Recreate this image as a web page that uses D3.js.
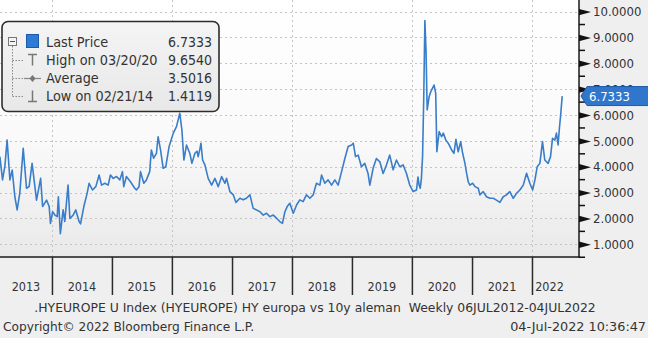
<!DOCTYPE html>
<html>
<head>
<meta charset="utf-8">
<script src="https://cdn.jsdelivr.net/npm/d3@7"></script>
<style>
  html, body { margin: 0; padding: 0; background: #efefef; }
  svg { display: block; font-family: "DejaVu Sans Condensed", "DejaVu Sans", sans-serif; }
</style>
</head>
<body>
<svg id="chart" width="648" height="338"></svg>
<script>
// Weekly HY Europe vs 10y Bund spread, sampled per year as [MM-DD, value]
const hy2013 = [["02-18",4.39],["03-06",3.49],["03-20",4.0],["04-03",5.03],["04-20",3.49],["05-04",3.87],["05-20",2.84],["06-03",2.33],["06-19",2.97],["07-10",4.71],["07-30",3.17],["08-15",3.23],["09-02",4.13],["09-29",2.71],["10-24",3.55],["11-05",2.46],["11-29",2.71],["12-15",2.46],["12-23",1.81]];
const hy2014 = [["01-05",2.26],["01-19",2.13],["02-02",2.07],["02-09",2.84],["02-21",1.4119],["03-10",2.33],["03-20",1.88],["04-09",3.29],["04-20",2.0],["05-10",2.13],["05-26",2.33],["06-15",1.88],["06-24",1.79],["07-14",2.46],["08-03",2.97],["08-15",3.36],["09-05",3.10],["09-25",3.23],["10-15",3.68],["10-30",3.29],["11-19",3.36],["12-09",3.29],["12-23",3.68]];
const hy2015 = [["01-09",3.55],["01-29",3.62],["02-18",3.49],["03-06",3.81],["03-14",3.23],["03-30",3.62],["04-24",3.42],["05-20",3.17],["05-30",3.10],["06-15",3.23],["06-24",3.81],["07-14",3.36],["07-30",3.49],["08-19",3.81],["08-29",4.65],["09-12",4.33],["09-29",4.52],["10-09",5.16],["10-24",4.65],["11-09",3.94],["11-25",4.0],["12-15",4.78]];
const hy2016 = [["01-09",5.29],["01-29",5.55],["02-18",6.07],["03-02",5.42],["03-14",4.26],["03-30",4.84],["04-20",4.5],["05-02",4.13],["05-20",4.52],["06-02",4.6],["06-09",4.39],["06-20",4.7],["06-26",4.91],["07-06",4.26],["07-20",4.07],["08-09",3.55],["08-30",3.29],["09-19",3.55],["10-09",3.23],["10-30",3.62],["11-19",3.36],["11-29",3.55],["12-19",3.04]];
const hy2017 = [["01-09",2.91],["01-25",2.62],["02-18",2.78],["03-10",2.72],["03-30",2.78],["04-20",2.91],["05-10",2.39],["05-30",2.33],["06-20",2.26],["07-10",2.13],["07-30",2.20],["08-19",2.07],["09-09",2.13],["09-29",2.01],["10-19",1.88],["11-04",1.81],["11-19",2.26],["12-03",2.46],["12-19",2.59]];
const hy2018 = [["01-09",2.20],["01-29",2.52],["02-18",2.72],["03-10",2.65],["03-30",2.91],["04-20",2.78],["05-10",2.91],["05-30",3.36],["06-20",3.29],["06-30",3.68],["07-20",3.36],["08-09",3.49],["08-30",3.29],["09-19",3.49],["10-09",3.29],["10-30",3.81],["11-19",4.32],["12-09",4.78],["12-30",4.84]];
const hy2019 = [["01-09",4.91],["01-23",4.39],["02-08",4.45],["02-28",4.0],["03-20",4.13],["04-09",3.74],["04-20",3.29],["05-10",3.94],["05-30",4.32],["06-20",4.19],["07-10",3.74],["07-30",4.07],["08-19",4.45],["09-09",3.88],["09-29",4.26],["10-19",4.0],["11-09",4.07],["11-29",3.74],["12-19",3.29]];
const hy2020 = [["01-09",3.04],["01-29",3.10],["02-07",3.6],["02-14",3.29],["02-21",3.17],["02-28",3.55],["03-06",4.4],["03-13",6.6],["03-20",9.654],["03-27",8.5],["04-03",6.2],["04-15",6.71],["04-25",6.90],["05-05",7.03],["05-15",7.16],["05-25",6.84],["06-01",4.58],["06-15",5.36],["06-30",5.16],["07-10",5.30],["07-26",5.03],["08-09",4.91],["08-30",4.65],["09-13",4.52],["09-25",5.06],["10-09",4.58],["10-24",4.97],["11-05",4.52],["11-19",4.13],["11-29",3.75],["12-09",3.42],["12-19",3.29]];
const hy2021 = [["01-05",3.36],["01-19",3.23],["02-08",3.17],["02-18",2.91],["03-10",3.04],["03-30",2.84],["04-20",2.78],["05-10",2.78],["05-30",2.71],["06-20",2.62],["07-10",2.84],["07-30",2.91],["08-19",3.04],["09-09",2.78],["09-29",2.97],["10-19",3.10],["11-09",3.29],["11-29",3.75],["12-19",3.36]];
const hy2022 = [["01-05",3.10],["01-19",3.49],["02-02",4.0],["02-18",4.13],["03-06",4.97],["03-20",4.26],["04-09",4.13],["04-24",4.39],["05-06",5.10],["05-20",5.03],["05-30",5.30],["06-09",4.84],["06-17",5.5],["06-24",5.95],["07-04",6.7333]];

const seriesByYear = { 2013: hy2013, 2014: hy2014, 2015: hy2015, 2016: hy2016, 2017: hy2017,
                       2018: hy2018, 2019: hy2019, 2020: hy2020, 2021: hy2021, 2022: hy2022 };

const yTickValues = [1, 2, 3, 4, 5, 6, 7, 8, 9, 10];
const yearLabels = ["2013","2014","2015","2016","2017","2018","2019","2020","2021","2022"];
const gridYears = [2014, 2016, 2018, 2020, 2022];

const legendRows = [
  { label: "Last Price",       value: "6.7333", icon: "square" },
  { label: "High on 03/20/20", value: "9.6540", icon: "high" },
  { label: "Average",          value: "3.5016", icon: "avg" },
  { label: "Low on 02/21/14",  value: "1.4119", icon: "low" }
];
const lastPrice = 6.7333;
const titleText = ".HYEUROPE U Index (HYEUROPE) HY europa vs 10y aleman  Weekly 06JUL2012-04JUL2022";
const copyrightText = "Copyright\u00A9 2022 Bloomberg Finance L.P.";
const stampText = "04-Jul-2022 10:36:47";

// ---- build the series ----
const parse = d3.utcParse("%Y-%m-%d");
const data = [];
Object.keys(seriesByYear).forEach(yr => {
  seriesByYear[yr].forEach(([md, v]) => data.push({ date: parse(`${yr}-${md}`), value: v }));
});
data.sort((a, b) => a.date - b.date);

// ---- layout ----
const W = 648, H = 338;
const plotLeft = -60, plotRight = 579, plotTop = -10, plotBottom = 257;
const lineColor = "#3a7dc8";
const footerFont = "\"DejaVu Sans\", sans-serif";

const x = d3.scaleUtc()
  .domain([parse("2012-07-06"), parse("2022-07-04")])
  .range([-37.4, 562.2]);
const y = d3.scaleLinear().domain([1, 10]).range([244.3, 11.6]);

const svg = d3.select("#chart");
const defs = svg.append("defs");

const grad = defs.append("linearGradient").attr("id", "plotBg")
  .attr("x1", 0).attr("y1", 0).attr("x2", 0).attr("y2", 1);
grad.append("stop").attr("offset", "0%").attr("stop-color", "#ffffff");
grad.append("stop").attr("offset", "55%").attr("stop-color", "#fafafa");
grad.append("stop").attr("offset", "100%").attr("stop-color", "#e9e9e9");

defs.append("clipPath").attr("id", "plotClip").append("rect")
  .attr("x", plotLeft).attr("y", plotTop)
  .attr("width", plotRight - plotLeft).attr("height", plotBottom - plotTop);

const legGrad = defs.append("linearGradient").attr("id", "legBg")
  .attr("x1", 0).attr("y1", 0).attr("x2", 0).attr("y2", 1);
legGrad.append("stop").attr("offset", "0%").attr("stop-color", "#f4f4f4");
legGrad.append("stop").attr("offset", "100%").attr("stop-color", "#e8e8e8");

// page background
svg.append("rect").attr("width", W).attr("height", H).attr("fill", "#efefef");

// plot background
svg.append("rect")
  .attr("x", plotLeft).attr("y", plotTop)
  .attr("width", plotRight - plotLeft).attr("height", plotBottom - plotTop)
  .attr("fill", "url(#plotBg)");

// ---- gridlines ----
const grid = svg.append("g").attr("clip-path", "url(#plotClip)")
  .attr("stroke", "#c4c4c4").attr("stroke-width", 1).attr("stroke-dasharray", "2,3");
grid.selectAll("line.h").data(yTickValues).join("line").attr("class", "h")
  .attr("x1", plotLeft).attr("x2", plotRight)
  .attr("y1", d => Math.round(y(d)) + 0.5).attr("y2", d => Math.round(y(d)) + 0.5);
grid.selectAll("line.v").data(gridYears).join("line").attr("class", "v")
  .attr("x1", d => Math.round(x(Date.UTC(d, 0, 1))) + 0.5)
  .attr("x2", d => Math.round(x(Date.UTC(d, 0, 1))) + 0.5)
  .attr("y1", plotTop).attr("y2", plotBottom);

// ---- price line ----
const line = d3.line().x(d => x(d.date)).y(d => y(d.value));
svg.append("g").attr("clip-path", "url(#plotClip)")
  .append("path").datum(data)
  .attr("d", line)
  .attr("fill", "none")
  .attr("stroke", lineColor)
  .attr("stroke-width", 1.6)
  .attr("stroke-linejoin", "round");

// ---- frame ----
svg.append("line").attr("x1", plotLeft).attr("x2", plotRight + 0.75)
  .attr("y1", plotBottom).attr("y2", plotBottom)
  .attr("stroke", "#1a1a1a").attr("stroke-width", 1.5);
svg.append("line").attr("x1", plotRight).attr("x2", plotRight)
  .attr("y1", plotTop).attr("y2", plotBottom + 0.75)
  .attr("stroke", "#1a1a1a").attr("stroke-width", 1.5);

// ---- x axis: year separators and centred year labels ----
const yearStarts = d3.utcYear.range(Date.UTC(2013, 0, 1), Date.UTC(2023, 0, 1));
const xAxis = d3.axisBottom(x)
  .tickValues(yearStarts.slice(1))
  .tickSize(38)
  .tickFormat("");
const gx = svg.append("g").attr("transform", `translate(0,${plotBottom})`).call(xAxis);
gx.select(".domain").remove();
gx.selectAll(".tick line").attr("stroke", "#2a2a2a").attr("stroke-width", 1.5);

const xVisible = [0, 567];
svg.append("g").selectAll("text").data(yearLabels).join("text")
  .attr("x", d => {
    const a = Math.max(x(Date.UTC(+d, 0, 1)), xVisible[0]);
    const b = Math.min(x(Date.UTC(+d + 1, 0, 1)), xVisible[1]);
    return (a + b) / 2;
  })
  .attr("y", 291)
  .attr("text-anchor", "middle")
  .attr("font-size", 12.5)
  .attr("fill", "#333")
  .text(d => d);

// ---- y axis on the right ----
const yAxis = d3.axisRight(y)
  .tickValues(yTickValues)
  .tickSize(0)
  .tickPadding(14)
  .tickFormat(d3.format(".4f"));
const gy = svg.append("g").attr("transform", `translate(${plotRight},0)`).call(yAxis);
gy.select(".domain").remove();
gy.selectAll(".tick text").attr("font-size", 13).attr("fill", "#333")
  .attr("font-family", "\"DejaVu Sans Condensed\", \"DejaVu Sans\", sans-serif");
gy.selectAll(".tick").append("path")
  .attr("d", "M0,-3.2L12,0L0,3.2Z").attr("fill", "#111");

// minor ticks
svg.append("g").selectAll("line").data(d3.range(0.5, 10.6, 1)).join("line")
  .attr("x1", plotRight).attr("x2", plotRight + 6)
  .attr("y1", d => y(d)).attr("y2", d => y(d))
  .attr("stroke", "#111").attr("stroke-width", 1.5);

// last price tag
const tagY = y(lastPrice);
const tag = svg.append("g").attr("transform", `translate(${plotRight + 2},${tagY})`);
tag.append("path")
  .attr("d", "M0,0L6,-9.5H70V9.5H6Z")
  .attr("fill", "#2f76cc").attr("stroke", "#1d5aa6").attr("stroke-width", 1);
tag.append("text").attr("x", 8).attr("y", 0).attr("dy", "0.36em")
  .attr("font-size", 13).attr("fill", "#ffffff")
  .text(d3.format(".4f")(lastPrice));

// ---- legend ----
const leg = svg.append("g");
leg.append("rect").attr("x", 2).attr("y", 21.5).attr("width", 217).attr("height", 90)
  .attr("rx", 6).attr("fill", "url(#legBg)").attr("stroke", "#2c2c2c").attr("stroke-width", 1.6);

const rowY = i => 42 + i * 18;
// tree connector
leg.append("line").attr("x1", 12.5).attr("x2", 12.5).attr("y1", 46).attr("y2", rowY(3))
  .attr("stroke", "#888").attr("stroke-width", 1).attr("stroke-dasharray", "1.5,1.5");
leg.selectAll("line.branch").data([1, 2, 3]).join("line").attr("class", "branch")
  .attr("x1", 12.5).attr("x2", 23).attr("y1", d => rowY(d) + 0.5).attr("y2", d => rowY(d) + 0.5)
  .attr("stroke", "#888").attr("stroke-width", 1).attr("stroke-dasharray", "1.5,1.5");
// collapse box
leg.append("rect").attr("x", 8.5).attr("y", 37.5).attr("width", 8).attr("height", 8)
  .attr("fill", "#f4f4f4").attr("stroke", "#777").attr("stroke-width", 1);
leg.append("line").attr("x1", 10).attr("x2", 15).attr("y1", 41.5).attr("y2", 41.5)
  .attr("stroke", "#555").attr("stroke-width", 1);

legendRows.forEach((r, i) => {
  const cy = rowY(i);
  const g = leg.append("g");
  if (r.icon === "square") {
    g.append("rect").attr("x", 26.5).attr("y", cy - 7.5).attr("width", 12).attr("height", 13)
      .attr("fill", "#2d7bd4").attr("stroke", "#1c5aa8").attr("stroke-width", 1);
  } else if (r.icon === "high") {
    g.append("path").attr("d", `M28,${cy - 5.5}H37M32.5,${cy - 5.5}V${cy + 5.5}`)
      .attr("stroke", "#777").attr("stroke-width", 1.5).attr("fill", "none");
  } else if (r.icon === "avg") {
    g.append("path").attr("d", `M24,${cy + 0.5}H41`)
      .attr("stroke", "#888").attr("stroke-width", 1.2).attr("fill", "none");
    g.append("path").attr("d", `M32.5,${cy - 3}L35.5,${cy + 0.5}L32.5,${cy + 4}L29.5,${cy + 0.5}Z`)
      .attr("fill", "#777");
  } else {
    g.append("path").attr("d", `M32.5,${cy - 5.5}V${cy + 5.5}M28,${cy + 5.5}H37`)
      .attr("stroke", "#777").attr("stroke-width", 1.5).attr("fill", "none");
  }
  g.append("text").attr("x", 46).attr("y", cy).attr("dy", "0.36em")
    .attr("font-size", 14.3).attr("fill", "#333").text(r.label);
  g.append("text").attr("x", 212).attr("y", cy).attr("dy", "0.36em")
    .attr("text-anchor", "end").attr("font-size", 14).attr("fill", "#333").text(r.value);
});

// ---- footer ----
svg.append("text").attr("x", 315).attr("y", 312).attr("text-anchor", "middle")
  .attr("font-family", footerFont)
  .attr("font-size", 12.4).attr("fill", "#333").attr("xml:space", "preserve").text(titleText);
svg.append("text").attr("x", 3).attr("y", 331)
  .attr("font-family", footerFont)
  .attr("font-size", 12.2).attr("fill", "#333").text(copyrightText);
svg.append("text").attr("x", 646).attr("y", 331).attr("text-anchor", "end")
  .attr("font-family", footerFont)
  .attr("font-size", 12.8).attr("fill", "#333").text(stampText);
</script>
</body>
</html>
